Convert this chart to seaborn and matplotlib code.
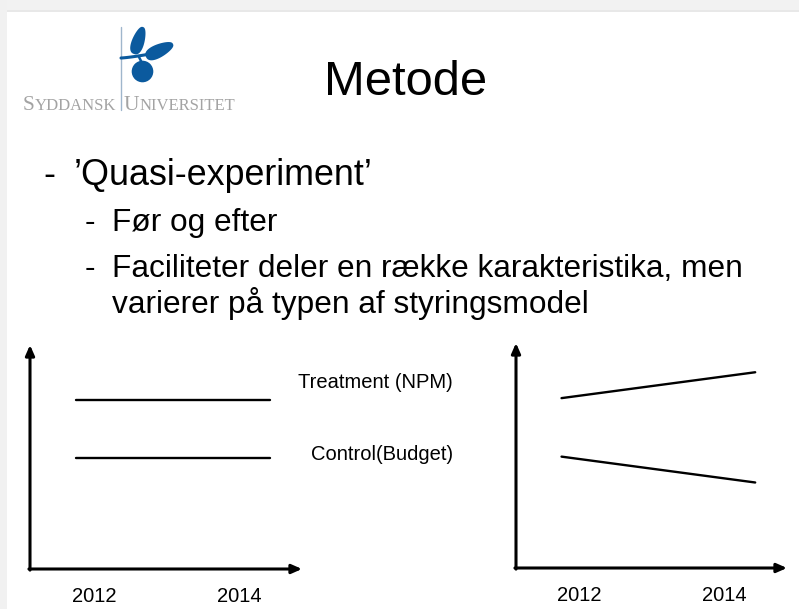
import numpy as np
import pandas as pd
import matplotlib
matplotlib.use("Agg")
import matplotlib.pyplot as plt
import seaborn as sns
from matplotlib.patches import Rectangle, Circle, Polygon

# ---------------- data ----------------
years = [2011.75, 2014.43]          # line end points on the year axis
tick_years = [2012, 2014]
tick_labels = ["2012", "2014"]
groups = ["Treatment (NPM)", "Control(Budget)"]
left_treatment = [7.55, 7.55]
left_control = [4.95, 4.95]
right_treatment = [7.55, 8.7]
right_control = [4.95, 3.8]

title = "Metode"
bullet1 = "\u2019Quasi-experiment\u2019"
sub1 = "Før og efter"
sub2a = "Faciliteter deler en række karakteristika, men"
sub2b = "varierer på typen af styringsmodel"

sns.set_theme(style="white")
plt.rcParams["font.family"] = ["Liberation Sans", "DejaVu Sans"]

W, H = 799, 609
fig = plt.figure(figsize=(W / 100, H / 100), dpi=100)
fig.patch.set_facecolor("white")

# background / overlay axes in pixel coordinates
bg = fig.add_axes([0, 0, 1, 1], zorder=0)
bg.set_xlim(0, W)
bg.set_ylim(H, 0)
bg.axis("off")

# slide frame
bg.add_patch(Rectangle((0, 0), W, 10, color="#f2f2f2", lw=0))
bg.add_patch(Rectangle((0, 10), W, 2, color="#e8e8e8", lw=0))
bg.add_patch(Rectangle((0, 0), 7, H, color="#f1f1f1", lw=0))

# ---------------- logo ----------------
blue = "#0b5a9e"


def leaf(base, tip, width):
    """teardrop leaf from a rounded base toward a pointed tip (pixel coords)"""
    base = np.array(base, float)
    tip = np.array(tip, float)
    d = tip - base
    L = np.hypot(*d)
    u = d / L
    n = np.array([-u[1], u[0]])
    t = np.linspace(0, np.pi, 40)
    s = (1 - np.cos(t)) / 2                     # 0..1 along leaf
    w = width / 2 * np.sin(t) ** 0.8 * (1 - 0.35 * s)
    side1 = base + np.outer(s * L, u) + np.outer(w, n)
    side2 = base + np.outer(s * L, u) - np.outer(w, n)
    return np.vstack([side1, side2[::-1]])


bg.plot([121, 121], [27, 110], color="#9fb6cc", lw=1.0)
bg.add_patch(Polygon(leaf((134, 54), (143, 27), 15), closed=True, color=blue, lw=0))
bg.add_patch(Polygon(leaf((146, 57), (173, 44), 16), closed=True, color=blue, lw=0))
bg.add_patch(Circle((142.5, 71.5), 10.8, color=blue, lw=0))
bx = np.linspace(121, 150, 30)
by = 58 - 4 * ((bx - 121) / 29) ** 1.3
bg.plot(bx, by, color=blue, lw=2.2, solid_capstyle="round")
bg.plot([139, 141.5], [57, 62], color=blue, lw=1.8)

gray = "#a3a3a3"
serif = ["Liberation Serif", "DejaVu Serif"]


def smallcaps(x, word, big=15.5, small=12.0, y=110):
    t = bg.text(x, y, word[0], fontsize=big, family=serif, color=gray,
                ha="left", va="baseline")
    bg.annotate(word[1:], xy=(1, y), xycoords=(t, "data"),
                fontsize=small, family=serif, color=gray,
                ha="left", va="baseline")


smallcaps(23, "SYDDANSK")
smallcaps(124, "UNIVERSITET")

# ---------------- slide text ----------------
bg.text(406, 95, title, fontsize=35.3, ha="center", va="baseline", color="black")
bg.text(43, 185, "-", fontsize=25.8, ha="left", va="baseline", color="black")
bg.text(74, 185, bullet1, fontsize=25.8, ha="left",
        va="baseline", color="black")
fs = 22.8
bg.text(85, 231.5, "-", fontsize=fs, ha="left", va="baseline", color="black")
bg.text(112, 231.5, sub1, fontsize=fs, ha="left", va="baseline", color="black")
bg.text(85, 277, "-", fontsize=fs, ha="left", va="baseline", color="black")
bg.text(112, 277, sub2a, fontsize=fs, ha="left", va="baseline", color="black")
bg.text(112, 313, sub2b, fontsize=fs, ha="left", va="baseline", color="black")

bg.text(298, 388, groups[0], fontsize=14.5, ha="left", va="baseline", color="black")
bg.text(311, 460, groups[1], fontsize=14.5, ha="left", va="baseline", color="black")

# ---------------- charts ----------------
xlim = (2011.12, 2014.87)
ylim = (0, 10)


def make_ax(x0, x1, ytop, ybot, tr, ct):
    ax = fig.add_axes([x0 / W, 1 - ybot / H, (x1 - x0) / W, (ybot - ytop) / H],
                      zorder=1)
    ax.patch.set_alpha(0)
    df = pd.DataFrame({
        "year": years + years,
        "value": tr + ct,
        "group": [groups[0]] * 2 + [groups[1]] * 2,
    })
    sns.lineplot(data=df, x="year", y="value", hue="group",
                 palette=["black", "black"], lw=1.7, legend=False, ax=ax)
    ax.set_xlim(*xlim)
    ax.set_ylim(*ylim)
    for s in ax.spines.values():
        s.set_visible(False)
    ax.set_xlabel("")
    ax.set_ylabel("")
    ax.set_yticks([])
    ax.set_xticks(tick_years)
    ax.set_xticklabels(tick_labels, fontsize=14.5, color="black")
    ax.tick_params(axis="x", length=0, pad=13)
    ap = dict(arrowstyle="-|>,head_length=0.5,head_width=0.22", lw=2.2,
              color="black", shrinkA=0, shrinkB=0)
    ax.annotate("", xy=(0, 1), xytext=(0, -0.005), xycoords="axes fraction",
                arrowprops=ap, annotation_clip=False)
    ax.annotate("", xy=(1, 0), xytext=(-0.004, 0), xycoords="axes fraction",
                arrowprops=ap, annotation_clip=False)
    return ax


make_ax(30, 302, 345, 569, left_treatment, left_control)
make_ax(516, 787, 343, 568, right_treatment, right_control)

fig.savefig("out.png", dpi=100)
